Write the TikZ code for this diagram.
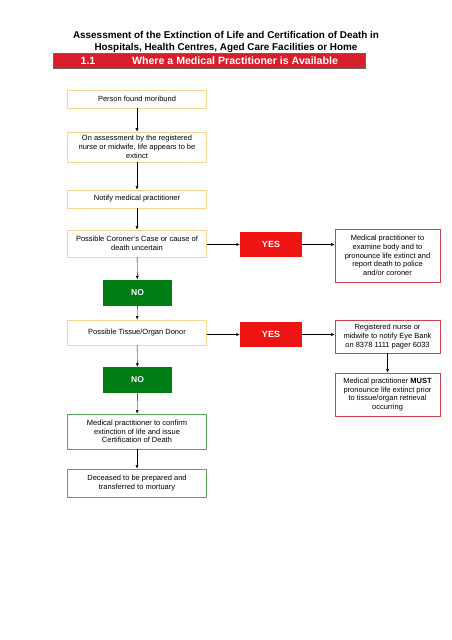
\documentclass[tikz,border=0pt]{standalone}
\usepackage{fontspec}
\setmainfont{Liberation Sans}
\usepackage{xcolor}
\usetikzlibrary{arrows.meta}
\definecolor{flowOrange}{RGB}{248, 215, 150}
\definecolor{flowGreen}{RGB}{85, 165, 85}
\definecolor{flowNo}{RGB}{0, 125, 20}
\definecolor{flowYes}{RGB}{238, 20, 20}
\definecolor{flowRedLine}{RGB}{205, 65, 80}
\definecolor{flowBar}{RGB}{215, 30, 45}

\begin{document}
\begin{tikzpicture}[x=1pt, y=-1pt,
    box/.style={draw=flowOrange, thick, fill=white, minimum width=139pt,
        align=center, inner sep=1pt, font=\fontsize{7.5}{8.8}\selectfont},
    greenbox/.style={box, draw=flowGreen},
    redbox/.style={box, draw=flowRedLine, minimum width=105pt},
    nobox/.style={fill=flowNo, text=white, minimum width=69pt, minimum height=26pt,
        font=\fontsize{8.5}{9}\selectfont\bfseries},
    yesbox/.style={nobox, fill=flowYes, minimum width=62pt, minimum height=25pt, font=\fontsize{9}{9}\selectfont\bfseries},
    flow/.style={-{Latex[length=3.5pt,width=3pt]}, black, thin}]
    \useasboundingbox (0,0) rectangle (452,640);
    % heading
    \node[font=\fontsize{9.9}{12}\selectfont\bfseries, align=center] (title) at (226,42)
        {Assessment of the Extinction of Life and Certification of Death in\\
         Hospitals, Health Centres, Aged Care Facilities or Home};
    \draw[fill=flowBar, draw=black!60] (53,53) rectangle (365,68);
    \node[text=white, font=\fontsize{10.6}{11}\selectfont\bfseries] (num) at (88,60.5) {1.1};
    \node[text=white, font=\fontsize{10.6}{11}\selectfont\bfseries] (head) at (235,60.5)
        {Where a Medical Practitioner is Available};
    % main column
    \node[box, minimum height=18pt] (moribund) at (137,99) {Person found moribund};
    \node[box, minimum height=30pt] (assess) at (137,147)
        {On assessment by the registered\\nurse or midwife, life appears to be\\extinct};
    \node[box, minimum height=18pt] (notify) at (137,199) {Notify medical practitioner};
    \node[box, minimum height=27pt] (coroner) at (137,243.5)
        {Possible Coroner's Case or cause of\\death uncertain};
    \node[nobox] (noA) at (137.5,292.5) {NO};
    \node[box, minimum height=25pt] (donor) at (137,332.5) {Possible Tissue/Organ Donor};
    \node[nobox] (noB) at (137.5,380) {NO};
    \node[greenbox, minimum height=35pt] (confirm) at (137,431.5)
        {Medical practitioner to confirm\\extinction of life and issue\\Certification of Death};
    \node[greenbox, minimum height=28pt] (mortuary) at (137,483)
        {Deceased to be prepared and\\transferred to mortuary};
    % right column
    \node[yesbox] (yesA) at (271,244.5) {YES};
    \node[yesbox] (yesB) at (271,334.5) {YES};
    \node[redbox, minimum height=53pt] (examine) at (387.5,255.5)
        {Medical practitioner to\\examine body and to\\pronounce life extinct and\\report death to police\\and/or coroner};
    \node[redbox, minimum height=33pt] (eyebank) at (387.5,336.5)
        {Registered nurse or\\midwife to notify Eye Bank\\on 8378 1111 pager 6033};
    \node[redbox, minimum height=43pt] (must) at (387.5,394.5)
        {Medical practitioner \textbf{MUST}\\pronounce life extinct prior\\to tissue/organ retrieval\\occurring};
    % connectors
    \draw[flow] (moribund) -- (assess);
    \draw[flow] (assess) -- (notify);
    \draw[flow] (notify) -- (coroner);
    \draw[flow] (coroner) -- (noA);
    \draw[flow] (noA) -- (donor);
    \draw[flow] (donor) -- (noB);
    \draw[flow] (noB) -- (confirm);
    \draw[flow] (confirm) -- (mortuary);
    \draw[flow] (coroner.east |- yesA) -- (yesA);
    \draw[flow] (yesA) -- (yesA -| examine.west);
    \draw[flow] (donor.east |- yesB) -- (yesB);
    \draw[flow] (yesB) -- (yesB -| eyebank.west);
    \draw[flow] (eyebank) -- (must);
\end{tikzpicture}
\end{document}
